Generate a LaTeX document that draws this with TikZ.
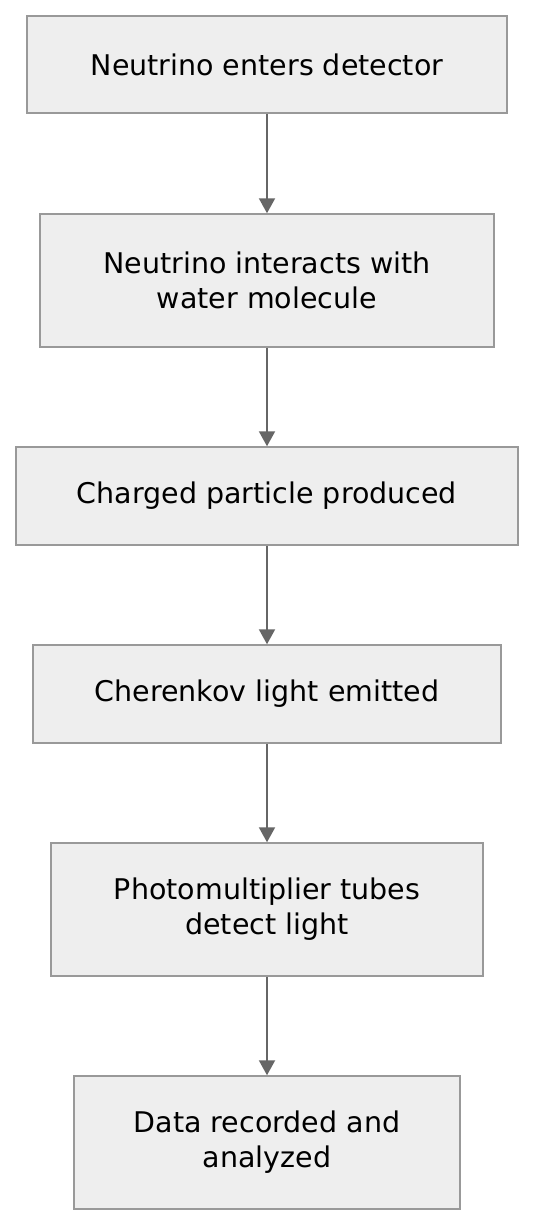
\documentclass[tikz,border=0pt]{standalone}
\usepackage{fontspec}
\setmainfont{DejaVu Sans}
\usetikzlibrary{arrows.meta}
\definecolor{boxfill}{HTML}{EEEEEE}
\definecolor{boxline}{HTML}{999999}
\definecolor{arrowc}{HTML}{666666}
\begin{document}
\begin{tikzpicture}[x=1pt,y=-1pt,
  flowbox/.style={draw=boxline,fill=boxfill,line width=1.5pt,align=center,inner sep=0pt,
    font=\fontsize{28.5}{35}\selectfont},
  flowarrow/.style={draw=arrowc,line width=2pt,-{Triangle[length=15pt,width=16pt]}}]
\useasboundingbox (0,0) rectangle (535,1226);
\node[flowbox,minimum width=480pt,minimum height=97pt] (n1) at (267,64.5) {Neutrino enters detector};
\node[flowbox,minimum width=454pt,minimum height=133pt] (n2) at (267,280.5) {Neutrino interacts with\\water molecule};
\node[flowbox,minimum width=502pt,minimum height=98pt] (n3) at (267,496) {Charged particle produced};
\node[flowbox,minimum width=468pt,minimum height=98pt] (n4) at (267,694) {Cherenkov light emitted};
\node[flowbox,minimum width=432pt,minimum height=133pt] (n5) at (267,909.5) {Photomultiplier tubes\\detect light};
\node[flowbox,minimum width=386pt,minimum height=133pt] (n6) at (267,1142.5) {Data recorded and\\analyzed};
\draw[flowarrow] (n1) -- (n2);
\draw[flowarrow] (n2) -- (n3);
\draw[flowarrow] (n3) -- (n4);
\draw[flowarrow] (n4) -- (n5);
\draw[flowarrow] (n5) -- (n6);
\end{tikzpicture}
\end{document}
